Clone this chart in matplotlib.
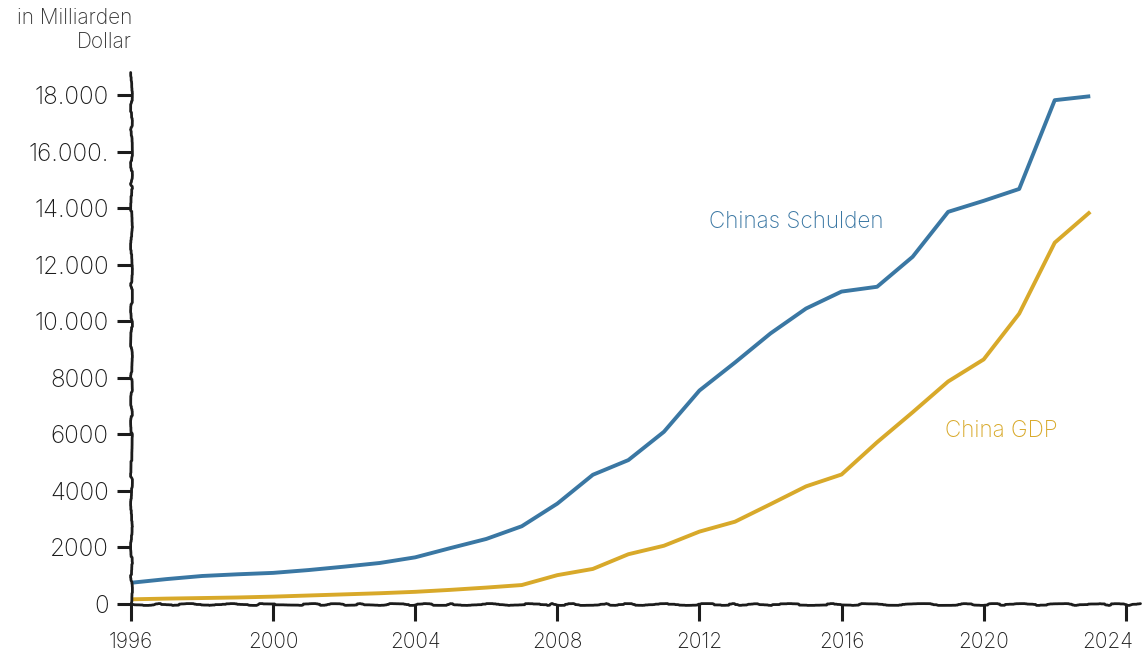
import matplotlib
matplotlib.use('Agg')
from matplotlib import pyplot as plt
from matplotlib import transforms

# data (Mrd. US-Dollar)
years = list(range(1996, 2024))
schulden = [750, 880, 990, 1050, 1100, 1200, 1320, 1450, 1650, 1980, 2300, 2750,
            3550, 4570, 5090, 6090, 7550, 8540, 9570, 10450, 11050, 11220, 12280,
            13870, 14260, 14680, 17820, 17960]
gdp = [165, 190, 210, 230, 260, 300, 340, 380, 430, 500, 580, 670,
       1020, 1240, 1760, 2060, 2560, 2910, 3530, 4160, 4580, 5720, 6780,
       7870, 8650, 10270, 12780, 13870]

xticks = [1996, 2000, 2004, 2008, 2012, 2016, 2020, 2024]
yticks = [0, 2000, 4000, 6000, 8000, 10000, 12000, 14000, 16000, 18000]
ytick_labels = ['0', '2000', '4000', '6000', '8000', '10.000', '12.000',
                '14.000', '16.000.', '18.000']

BLUE = '#3a77a3'
GOLD = '#d8a92a'
INK = '#1c1c1c'

plt.rcParams['font.family'] = ['Inter', 'DejaVu Sans']
plt.rcParams['font.weight'] = 'light'

fig = plt.figure(figsize=(11.44, 6.57), dpi=100)
ax = fig.add_axes([0.1145, 0.0807, 0.882, 0.809])

ax.plot(years, schulden, color=BLUE, lw=2.8, solid_capstyle='butt')
ax.plot(years, gdp, color=GOLD, lw=2.8, solid_capstyle='butt')

ax.text(2012.26, 13520, 'Chinas Schulden', color=BLUE, fontsize=16.2,
        va='center', ha='left')
ax.text(2018.9, 6106, 'China GDP', color=GOLD, fontsize=16.2,
        va='center', ha='left')

ax.set_xlim(1996, 2024.4)
ax.set_ylim(0, 18800)
ax.set_xticks(xticks)
ax.set_yticks(yticks)
ax.set_yticklabels(ytick_labels)

for side in ['top', 'right']:
    ax.spines[side].set_visible(False)
for side in ['left', 'bottom']:
    ax.spines[side].set_color(INK)
    ax.spines[side].set_linewidth(2.0)
    ax.spines[side].set_sketch_params(scale=0.9, length=260, randomness=60)
    ax.spines[side].set_capstyle('round')

ax.tick_params(axis='y', length=10, width=2.2, color=INK, pad=6,
               labelsize=17.5, labelcolor=INK)
ax.tick_params(axis='x', length=12, width=2.2, color=INK, pad=8,
               labelsize=15, labelcolor=INK)

# last year label sits left of its tick so it stays inside the picture
last = ax.get_xticklabels()[-1]
last.set_horizontalalignment('right')
last.set_transform(last.get_transform() + transforms.ScaledTranslation(7 / 100, 0, fig.dpi_scale_trans))

fig.text(132 / 1144, 1 - 30 / 657, 'in Milliarden\nDollar', ha='right', va='center',
         fontsize=15, color='#333333', linespacing=1.25)

plt.savefig('out.png', facecolor='w', transparent=False)
